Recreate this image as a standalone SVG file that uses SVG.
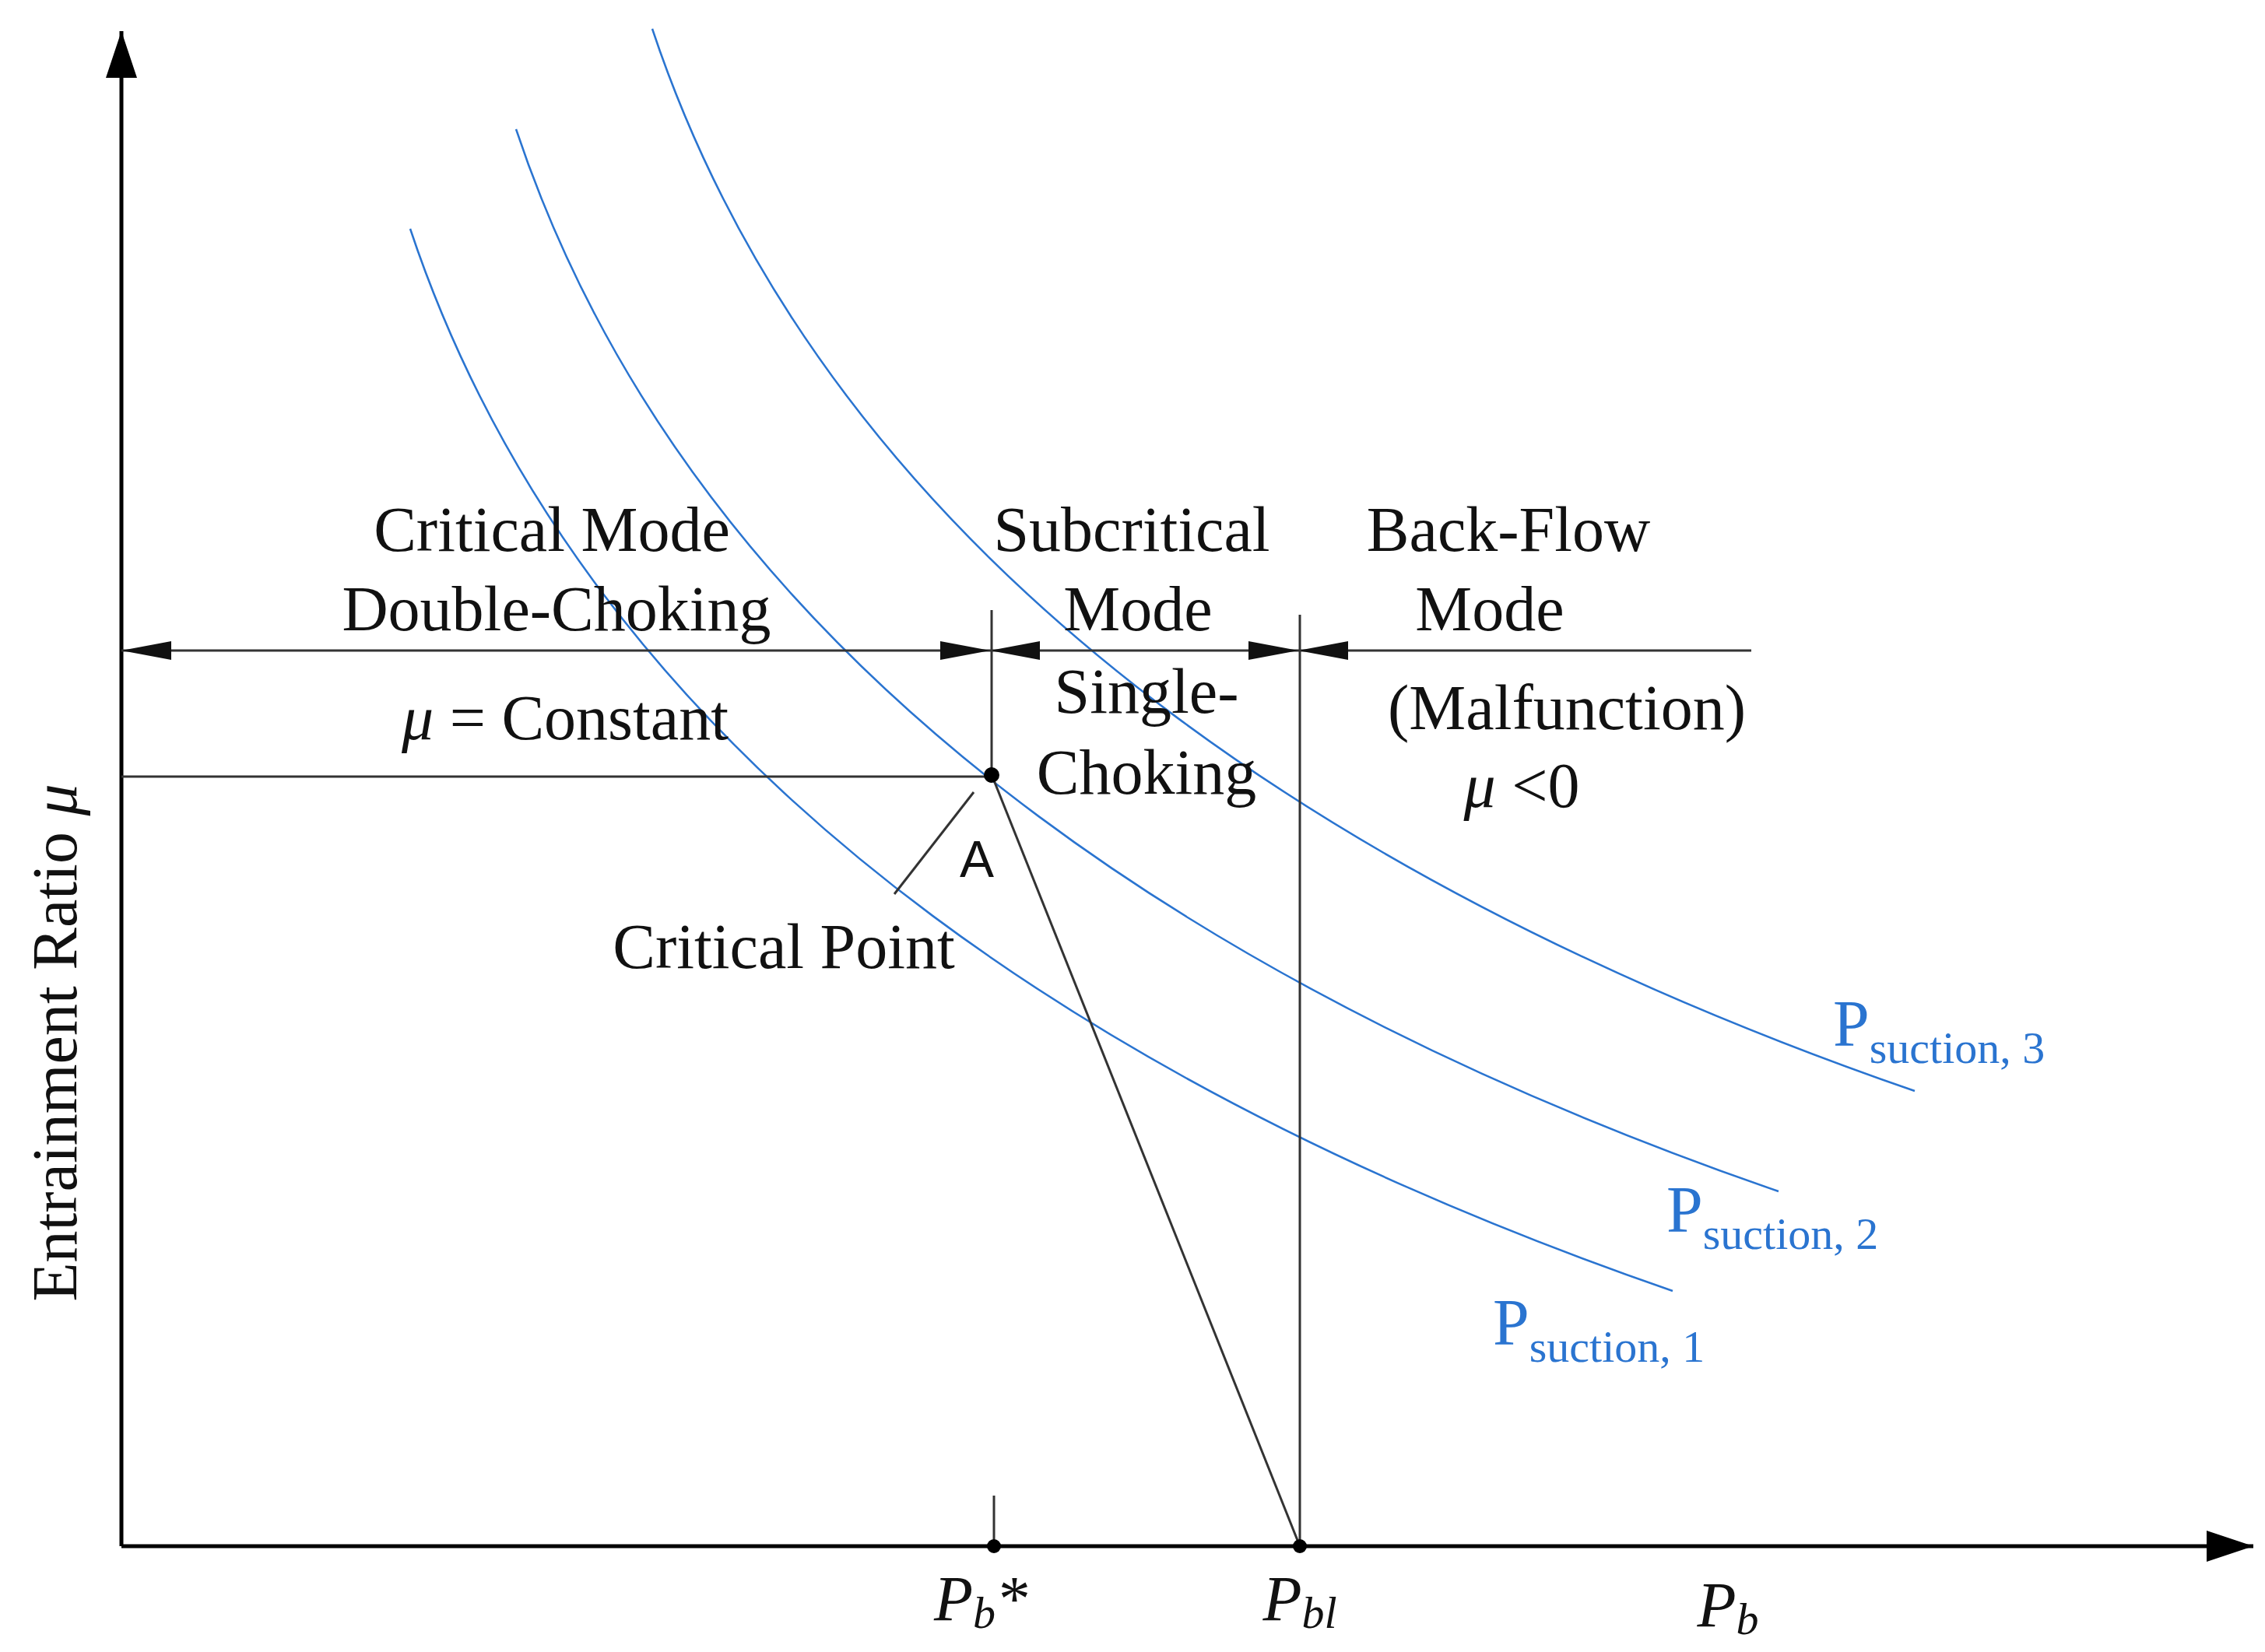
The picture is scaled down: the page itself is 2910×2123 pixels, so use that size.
<svg xmlns="http://www.w3.org/2000/svg" width="2910" height="2123" viewBox="0 0 2910 2123">
<style>
.t{font-family:"Liberation Serif",serif;font-size:82px;fill:#111;text-anchor:middle}
.b{font-family:"Liberation Serif",serif;font-size:84px;fill:#2a74d0}
.s{font-size:58px}
.ln{stroke:#333;stroke-width:3;fill:none}
.ax{stroke:#000;stroke-width:5;fill:none}
.cv{stroke:#2a74d0;stroke-width:2.5;fill:none}
</style>
<defs>
<marker id="ar" viewBox="0 0 10 10" refX="10" refY="5" markerWidth="10" markerHeight="10" markerUnits="userSpaceOnUse" orient="auto-start-reverse"><path d="M0,0L10,5L0,10z" fill="#000"/></marker>
<marker id="ah" viewBox="0 0 60 40" refX="60" refY="20" markerWidth="60" markerHeight="40" markerUnits="userSpaceOnUse" orient="auto-start-reverse"><path d="M0,0L60,20L0,40z" fill="#000"/></marker>
<marker id="sa" viewBox="0 0 64 24" refX="64" refY="12" markerWidth="64" markerHeight="24" markerUnits="userSpaceOnUse" orient="auto-start-reverse"><path d="M0,0L64,12L0,24z" fill="#111"/></marker>
<path id="cvp" d="M0,0 C250,750 1000,1150 1622,1365"/>
</defs>
<g id="curves">
<use href="#cvp" class="cv" transform="translate(527,294)"/>
<use href="#cvp" class="cv" transform="translate(663,166)"/>
<use href="#cvp" class="cv" transform="translate(838,37)"/>
</g>
<g id="connectors">
<line class="ax" x1="156" y1="1987" x2="156" y2="40" marker-end="url(#ah)"/>
<line class="ax" x1="156" y1="1987" x2="2895" y2="1987" marker-end="url(#ah)"/>
<line class="ln" x1="156" y1="836" x2="1272" y2="836" marker-start="url(#sa)" marker-end="url(#sa)"/>
<line class="ln" x1="1272" y1="836" x2="1668" y2="836" marker-start="url(#sa)" marker-end="url(#sa)"/>
<line class="ln" x1="1668" y1="836" x2="2250" y2="836" marker-start="url(#sa)"/>
<line class="ln" x1="156" y1="998" x2="1275" y2="998"/>
<line class="ln" x1="1274" y1="784" x2="1274" y2="998"/>
<line class="ln" x1="1670" y1="790" x2="1670" y2="1987"/>
<line class="ln" x1="1275" y1="998" x2="1670" y2="1987"/>
<line class="ln" x1="1277" y1="1922" x2="1277" y2="1987"/>
<line class="ln" x1="1251" y1="1018" x2="1149" y2="1149"/>
<circle cx="1274" cy="996" r="10" fill="#000"/>
<circle cx="1277" cy="1987" r="9" fill="#000"/>
<circle cx="1670" cy="1987" r="9" fill="#000"/>
</g>
<g id="labels">
<text class="t" x="709" y="708">Critical Mode</text>
<text class="t" x="715" y="810">Double-Choking</text>
<text class="t" x="1454" y="708">Subcritical</text>
<text class="t" x="1462" y="810">Mode</text>
<text class="t" x="1938" y="708">Back-Flow</text>
<text class="t" x="1914" y="810">Mode</text>
<text class="t" x="1473" y="916">Single-</text>
<text class="t" x="1473" y="1020">Choking</text>
<text class="t" x="2013" y="937">(Malfunction)</text>
<text class="t" x="1955" y="1037"><tspan font-style="italic">μ</tspan> &lt;0</text>
<text class="t" x="726" y="950"><tspan font-style="italic">μ</tspan> = Constant</text>
<text class="t" x="1255" y="1127" style="font-family:'Liberation Sans',sans-serif;font-size:66px">A</text>
<text class="t" x="1007" y="1244">Critical Point</text>
<text class="t" transform="translate(98,1340) rotate(-90)">Entrainment Ratio <tspan font-style="italic">μ</tspan></text>
<text class="b" x="2355" y="1344">P<tspan class="s" dy="22">suction, 3</tspan></text>
<text class="b" x="2141" y="1583">P<tspan class="s" dy="22">suction, 2</tspan></text>
<text class="b" x="1918" y="1728">P<tspan class="s" dy="22">suction, 1</tspan></text>
<text class="t" x="1260" y="2082" font-style="italic">P<tspan class="s" dy="10">b</tspan><tspan dy="-10">*</tspan></text>
<text class="t" x="1670" y="2082" font-style="italic">P<tspan class="s" dy="10">bl</tspan></text>
<text class="t" x="2220" y="2090" font-style="italic">P<tspan class="s" dy="10">b</tspan></text>
</g>
</svg>
